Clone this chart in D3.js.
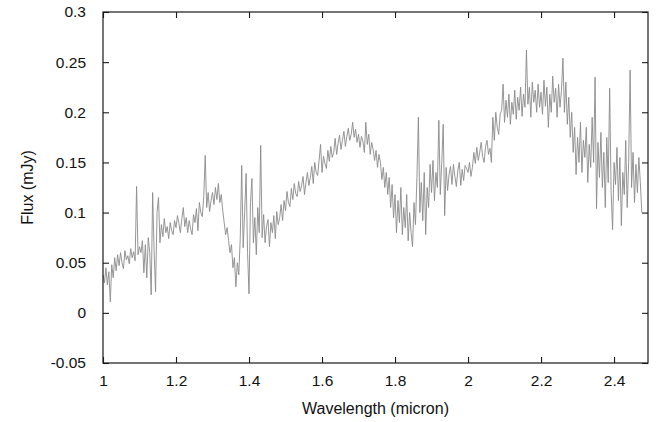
<!DOCTYPE html>
<html lang="en">
<head>
  <meta charset="utf-8" />
  <title>Spectrum: Flux vs Wavelength</title>
  <style>
    html,body{margin:0;padding:0;background:#fff;}
    svg{display:block;font-family:"Liberation Sans",Arial,Helvetica,sans-serif;}
    .frame{fill:none;stroke:#1a1a1a;stroke-width:1.2;}
    .tick line{stroke:#1a1a1a;stroke-width:1.1;}
    .tick text{fill:#111;font-size:15.5px;}
    .title{fill:#111;font-size:16px;}
  </style>
</head>
<body>
  <svg id="chart" width="670" height="422"></svg>

  <script src="https://d3js.org/d3.v7.min.js"></script>
  <script>
    // ————— DATA —————
    const waveStart = 1.0;     // micron
    const waveStep  = 0.004;   // micron between samples

    const flux100 = [0.038,0.030,0.045,0.028,0.041,0.011,0.048,0.035,0.055,0.042,0.058,0.047,0.060,0.050,0.044,0.062,0.053,0.057,0.049,0.064,0.055,0.061,0.052,0.126,0.058];
    const flux110 = [0.066,0.060,0.072,0.040,0.068,0.035,0.075,0.060,0.018,0.120,0.062,0.021,0.100,0.115,0.070,0.088,0.076,0.094,0.080,0.086,0.074,0.090,0.082,0.078,0.092];
    const flux120 = [0.085,0.097,0.089,0.080,0.094,0.105,0.086,0.095,0.080,0.092,0.084,0.078,0.098,0.090,0.104,0.082,0.110,0.100,0.096,0.116,0.157,0.105,0.120,0.101,0.112];
    const flux130 = [0.120,0.108,0.125,0.113,0.129,0.110,0.118,0.102,0.090,0.078,0.085,0.072,0.060,0.068,0.045,0.055,0.026,0.050,0.038,0.075,0.147,0.065,0.100,0.139,0.060];
    const flux140 = [0.019,0.110,0.134,0.070,0.095,0.058,0.105,0.080,0.167,0.075,0.098,0.070,0.086,0.093,0.066,0.090,0.080,0.097,0.074,0.101,0.088,0.095,0.108,0.092,0.112];
    const flux150 = [0.102,0.121,0.110,0.106,0.124,0.113,0.129,0.119,0.116,0.131,0.121,0.127,0.136,0.118,0.130,0.140,0.127,0.135,0.146,0.129,0.150,0.140,0.137,0.152,0.168];
    const flux160 = [0.140,0.156,0.149,0.144,0.162,0.151,0.166,0.155,0.160,0.174,0.158,0.169,0.177,0.163,0.172,0.181,0.166,0.176,0.184,0.172,0.178,0.190,0.175,0.183,0.170];
    const flux170 = [0.178,0.165,0.176,0.171,0.160,0.190,0.168,0.178,0.158,0.170,0.163,0.152,0.162,0.145,0.158,0.150,0.133,0.145,0.125,0.140,0.118,0.135,0.105,0.128,0.095];
    const flux180 = [0.118,0.080,0.112,0.090,0.125,0.078,0.105,0.085,0.118,0.072,0.100,0.080,0.066,0.110,0.088,0.135,0.195,0.100,0.130,0.092,0.140,0.078,0.125,0.105,0.148];
    const flux190 = [0.120,0.152,0.112,0.140,0.125,0.192,0.118,0.150,0.188,0.097,0.145,0.122,0.138,0.146,0.128,0.148,0.136,0.126,0.142,0.150,0.127,0.143,0.132,0.147,0.144];
    const flux200 = [0.140,0.150,0.136,0.145,0.160,0.149,0.165,0.152,0.160,0.170,0.156,0.150,0.166,0.172,0.158,0.164,0.150,0.195,0.172,0.200,0.185,0.178,0.198,0.202,0.228];
    const flux210 = [0.190,0.212,0.195,0.218,0.188,0.210,0.198,0.222,0.193,0.215,0.202,0.225,0.196,0.218,0.205,0.262,0.208,0.225,0.195,0.230,0.210,0.222,0.200,0.228,0.205];
    const flux220 = [0.220,0.198,0.232,0.206,0.225,0.185,0.218,0.200,0.236,0.210,0.224,0.195,0.228,0.205,0.222,0.254,0.200,0.230,0.188,0.215,0.175,0.200,0.160,0.185,0.138];
    const flux230 = [0.175,0.150,0.190,0.140,0.172,0.155,0.185,0.130,0.168,0.145,0.195,0.150,0.235,0.104,0.170,0.135,0.180,0.125,0.160,0.105,0.175,0.130,0.224,0.120,0.083];
    const flux240 = [0.150,0.128,0.165,0.112,0.155,0.087,0.140,0.118,0.172,0.105,0.150,0.242,0.125,0.160,0.110,0.148,0.120,0.155,0.130,0.100];

    const xTicks = [1, 1.2, 1.4, 1.6, 1.8, 2, 2.2, 2.4];
    const yTicks = [-0.05, 0, 0.05, 0.1, 0.15, 0.2, 0.25, 0.3];

    const flux = [].concat(flux100,flux110,flux120,flux130,flux140,flux150,flux160,flux170,
                           flux180,flux190,flux200,flux210,flux220,flux230,flux240);
    const spectrum = flux.map((f,i)=>({w: waveStart + i*waveStep, f}));

    // ————— LAYOUT —————
    const W = 670, H = 422;
    const margin = {top:12, right:22, bottom:59, left:103};
    const svg = d3.select('#chart');
    const x = d3.scaleLinear().domain([1, 2.493]).range([margin.left, W - margin.right]);
    const y = d3.scaleLinear().domain([-0.05, 0.3]).range([H - margin.bottom, margin.top]);
    const fmt = d => String(d);   // plain hyphen for negatives, like the original
    const TL = 6; // inward tick length

    // ————— AXES (ticks inward on all four sides) —————
    svg.append('g').attr('transform',`translate(0,${y.range()[0]})`)
      .call(d3.axisBottom(x).tickValues(xTicks).tickFormat(fmt).tickSizeInner(-TL).tickSizeOuter(0).tickPadding(12))
      .call(g=>g.select('.domain').remove());
    svg.append('g').attr('transform',`translate(0,${y.range()[1]})`)
      .call(d3.axisTop(x).tickValues(xTicks).tickFormat('').tickSizeInner(-TL).tickSizeOuter(0))
      .call(g=>g.select('.domain').remove());
    svg.append('g').attr('transform',`translate(${x.range()[0]},0)`)
      .call(d3.axisLeft(y).tickValues(yTicks).tickFormat(fmt).tickSizeInner(-TL).tickSizeOuter(0).tickPadding(17))
      .call(g=>g.select('.domain').remove());
    svg.append('g').attr('transform',`translate(${x.range()[1]},0)`)
      .call(d3.axisRight(y).tickValues(yTicks).tickFormat('').tickSizeInner(-TL).tickSizeOuter(0))
      .call(g=>g.select('.domain').remove());

    svg.selectAll('.tick text').style('font-family','"Liberation Sans",Arial,sans-serif');

    // ————— SPECTRUM —————
    svg.append('path').datum(spectrum)
      .attr('fill','none').attr('stroke','#8a8a8a').attr('stroke-width',0.9)
      .attr('d', d3.line().x(d=>x(d.w)).y(d=>y(d.f)));

    // ————— FRAME —————
    svg.append('rect').attr('class','frame')
      .attr('x',x.range()[0]).attr('y',y.range()[1])
      .attr('width',x.range()[1]-x.range()[0]).attr('height',y.range()[0]-y.range()[1]);

    // ————— TITLES —————
    svg.append('text').attr('class','title').attr('text-anchor','middle')
      .attr('x',(x.range()[0]+x.range()[1])/2).attr('y',414)
      .text('Wavelength (micron)');
    svg.append('text').attr('class','title').attr('text-anchor','middle')
      .attr('transform',`translate(33,${(y.range()[0]+y.range()[1])/2}) rotate(-90)`)
      .text('Flux (mJy)');
  </script>
</body>
</html>
